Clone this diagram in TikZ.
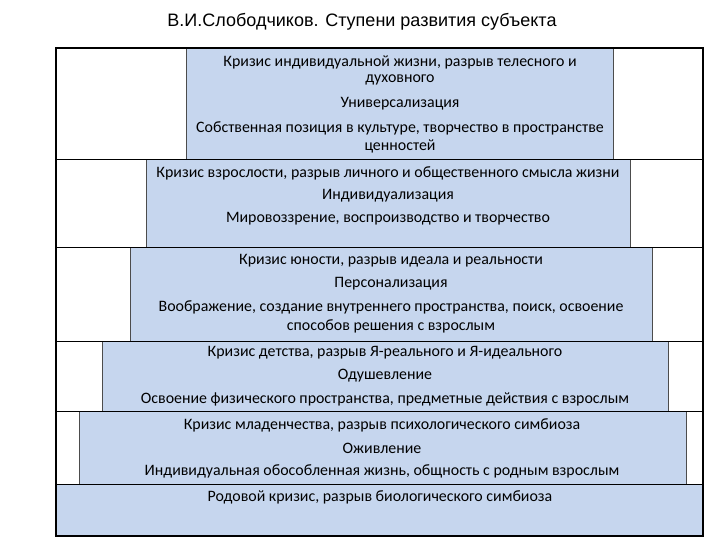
\documentclass[tikz,border=0pt]{standalone}
\usepackage{fontspec}
\setmainfont{Carlito}
\newfontfamily\titlefont{Liberation Sans}
\definecolor{boxblue}{HTML}{C6D6EE}
\begin{document}
\begin{tikzpicture}[x=1pt,y=-1pt,
  stage/.style={fill=boxblue,draw=black!70,line width=0.6pt},
  frame/.style={draw=black,line width=1.4pt},
  divider/.style={draw=black,line width=0.8pt},
  txt/.style={font=\fontsize{15.9}{18}\selectfont,inner sep=0pt,anchor=center}]
\useasboundingbox (0,0) rectangle (720,540);
\node[font=\titlefont\fontsize{18}{21}\selectfont] (title) at (362,22) {В.И.Слободчиков. Ступени развития субъекта};
\path[stage] (186,48) rectangle (613,159);
\path[stage] (146,159) rectangle (630,247);
\path[stage] (130,247) rectangle (652,341);
\path[stage] (102,341) rectangle (668,411);
\path[stage] (79,411) rectangle (686,484);
\path[stage] (56,484) rectangle (703,536);
\foreach \y in {159,247,341,411,484} \draw[divider] (56,\y) -- (703,\y);
\path[frame] (56,48) rectangle (703,536);
\node[txt] (a1) at (400,62) {Кризис индивидуальной жизни, разрыв телесного и};
\node[txt] (a2) at (400,80) {духовного};
\node[txt] (a3) at (400,104) {Универсализация};
\node[txt] (a4) at (400,128) {Собственная позиция в культуре, творчество в пространстве};
\node[txt] (a5) at (400,146) {ценностей};
\node[txt] (b1) at (388,173) {Кризис взрослости, разрыв личного и общественного смысла жизни};
\node[txt] (b2) at (388,196) {Индивидуализация};
\node[txt] (b3) at (388,219) {Мировоззрение, воспроизводство и творчество};
\node[txt] (c1) at (391,261) {Кризис юности, разрыв идеала и реальности};
\node[txt] (c2) at (391,284) {Персонализация};
\node[txt] (c3) at (391,307) {Воображение, создание внутреннего пространства, поиск, освоение};
\node[txt] (c4) at (391,326) {способов решения с взрослым};
\node[txt] (d1) at (385,353) {Кризис детства, разрыв Я-реального и Я-идеального};
\node[txt] (d2) at (385,376) {Одушевление};
\node[txt] (d3) at (385,399) {Освоение физического пространства, предметные действия с взрослым};
\node[txt] (e1) at (382,425) {Кризис младенчества, разрыв психологического симбиоза};
\node[txt] (e2) at (382,448) {Оживление};
\node[txt] (e3) at (382,471) {Индивидуальная обособленная жизнь, общность с родным взрослым};
\node[txt] (f1) at (380,497) {Родовой кризис, разрыв биологического симбиоза};
\end{tikzpicture}
\end{document}
